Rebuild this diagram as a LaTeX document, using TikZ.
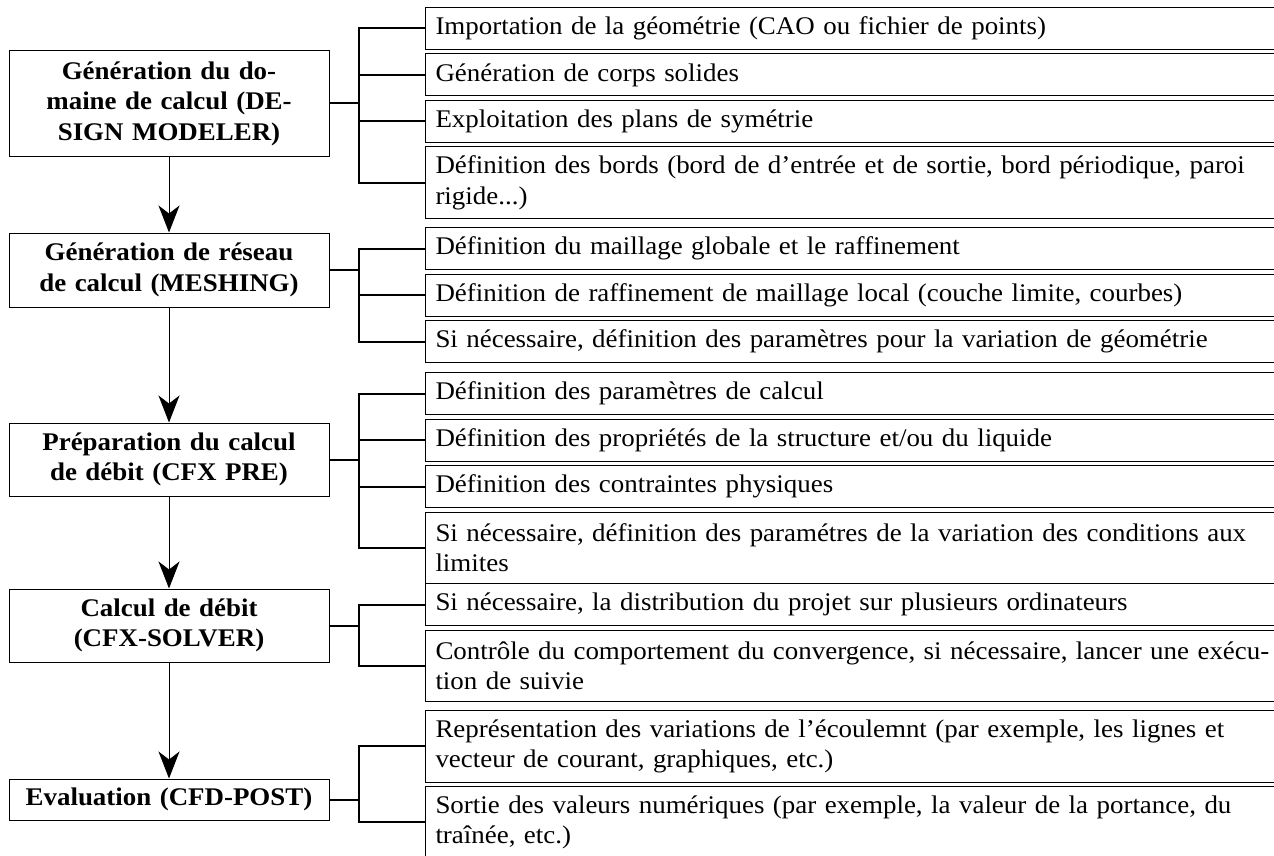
\documentclass[tikz,border=0pt]{standalone}
\usepackage{fontspec}
\setmainfont{Liberation Serif}[FakeStretch=1.06]
\usetikzlibrary{positioning,arrows.meta}

\tikzset{
  phase/.style={draw,line width=0.5pt,align=center,text width=152pt,inner xsep=4pt,inner ysep=2pt,
    font=\fontsize{12.7}{15.25}\selectfont\bfseries},
  task/.style={draw,line width=0.5pt,align=left,text width=420pt,inner xsep=5pt,inner ysep=2pt,minimum height=21pt},
  task2/.style={task,minimum height=35.75pt},
  flow/.style={-{Stealth[length=13.5pt,width=10.5pt,inset=4pt]},line width=0.5pt},
  bus/.style={line width=1pt},
  fork/.style={to path={-- ++(29,0) |- (\tikztotarget)}}
}

\begin{document}
\begin{tikzpicture}[x=0.5pt,y=-0.5pt,node distance=1.75pt,font=\fontsize{12.7}{15.25}\selectfont]
  \useasboundingbox (0,0) rectangle (1274,856);

  \node[phase,minimum height=52.5pt] (dm) at (169,103.5) {Génération du do-\\maine de calcul (DE-\\SIGN MODELER)};
  \node[phase,minimum height=37pt] (mesh) at (169,270) {Génération de réseau\\de calcul (MESHING)};
  \node[phase,minimum height=36.5pt] (pre) at (169,459.5) {Préparation du calcul\\de débit (CFX PRE)};
  \node[phase,minimum height=36.5pt] (solver) at (169,625.5) {Calcul de débit\\(CFX-SOLVER)};
  \node[phase,minimum height=20.5pt] (post) at (169,799.5) {Evaluation (CFD-POST)};

  \node[task,anchor=north west] (imp) at (425,7) {Importation de la géométrie (CAO ou fichier de points)};
  \node[task] (corps) [below = of imp] {Génération de corps solides};
  \node[task] (sym) [below = of corps] {Exploitation des plans de symétrie};
  \node[task2] (bords) [below = of sym] {Définition des bords (bord de d'entrée et de sortie, bord périodique, paroi\\rigide...)};

  \node[task,anchor=north west] (glob) at (425,227) {Définition du maillage globale et le raffinement};
  \node[task] (loc) [below = of glob] {Définition de raffinement de maillage local (couche limite, courbes)};
  \node[task] (var) [below = of loc] {Si nécessaire, définition des paramètres pour la variation de géométrie};

  \node[task,anchor=north west] (param) at (425,372) {Définition des paramètres de calcul};
  \node[task] (prop) [below = of param] {Définition des propriétés de la structure et/ou du liquide};
  \node[task] (contr) [below = of prop] {Définition des contraintes physiques};
  \node[task2] (lim) [below = of contr] {Si nécessaire, définition des paramétres de la variation des conditions aux\\limites};

  \node[task,anchor=north west] (distr) at (425,583) {Si nécessaire, la distribution du projet sur plusieurs ordinateurs};
  \node[task2] (conv) [below = of distr] {Contrôle du comportement du convergence, si nécessaire, lancer une exécu-\\tion de suivie};

  \node[task2,anchor=north west] (repr) at (425,710) {Représentation des variations de l'écoulemnt (par exemple, les lignes et\\vecteur de courant, graphiques, etc.)};
  \node[task2] (sort) [below = of repr] {Sortie des valeurs numériques (par exemple, la valeur de la portance, du\\traînée, etc.)};

  \path[flow]
  (dm) edge (mesh)
  (mesh) edge (pre)
  (pre) edge (solver)
  (solver) edge (post);

  \path[bus]
  (dm.east)
  edge [fork] (imp.west)
  edge [fork] (corps.west)
  edge [fork] (sym.west)
  edge [fork] (bords.west)
  (mesh.east)
  edge [fork] (glob.west)
  edge [fork] (loc.west)
  edge [fork] (var.west)
  (pre.east)
  edge [fork] (param.west)
  edge [fork] (prop.west)
  edge [fork] (contr.west)
  edge [fork] (lim.west)
  (solver.east)
  edge [fork] (distr.west)
  edge [fork] (conv.west)
  (post.east)
  edge [fork] (repr.west)
  edge [fork] (sort.west);
\end{tikzpicture}
\end{document}
